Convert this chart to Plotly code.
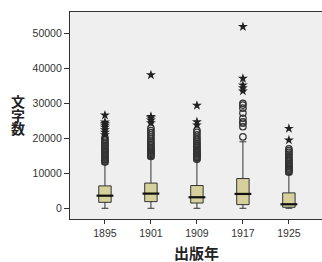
import plotly.graph_objects as go

years = ["1895", "1901", "1909", "1917", "1925"]
q1 = [1700, 1900, 1500, 1050, 290]
median = [3600, 4200, 3150, 4100, 1150]
q3 = [6400, 7200, 6500, 8500, 4400]
lower = [0, 0, 0, 0, 0]
upper = [12600, 14200, 13600, 19000, 9700]
ytick_vals = [0, 10000, 20000, 30000, 40000, 50000]
ytick_text = ["0", "10000", "20000", "30000", "40000", "50000"]
y_title_chars = ["文", "字", "数"]
x_title = "出版年"

circles = {
    "1895": [13200, 13500, 13800, 14000, 14300, 14600, 14900, 15200, 15500, 15800, 16100,
             16400, 16800, 17200, 17600, 18000, 18400, 18800, 19200, 19700, 20200],
    "1901": [14800, 15100, 15400, 15700, 16000, 16300, 16600, 17000, 17400, 17800, 18200,
             18700, 19200, 19800, 20400, 21000, 21600, 22200, 22900],
    "1909": [14000, 14300, 14600, 14900, 15200, 15500, 15800, 16100, 16500, 16900, 17300,
             17700, 18100, 18600, 19100, 19700, 20300, 21000, 21700, 22300],
    "1917": [20400, 23300, 24300, 24700, 25700, 27200, 28600, 29500, 30000],
    "1925": [10300, 10600, 10900, 11200, 11500, 11800, 12100, 12400, 12800, 13200, 13600,
             14000, 14500, 15000, 15500, 16000, 16500, 17000],
}
stars = {
    "1895": [21000, 21700, 22400, 23100, 23700, 24200, 24600, 26600],
    "1901": [24400, 25200, 25800, 26200, 38100],
    "1909": [23800, 24700, 29400],
    "1917": [33500, 34400, 35200, 37100, 51900],
    "1925": [19500, 22800],
}

fig = go.Figure()
fig.add_trace(go.Box(
    x=years, q1=q1, median=median, q3=q3, lowerfence=lower, upperfence=upper,
    fillcolor="#d6d09c", line=dict(color="#333333", width=1),
    width=0.27, whiskerwidth=0.55, boxpoints=False, showlegend=False, hoverinfo="skip",
))
fig.add_trace(go.Scatter(
    x=years, y=median, mode="markers", showlegend=False, hoverinfo="skip",
    marker=dict(symbol="line-ew", size=12, line=dict(color="#111111", width=2.2)),
))
cx, cy, sx, sy = [], [], [], []
for yr in years:
    cx += [yr] * len(circles[yr]); cy += circles[yr]
    sx += [yr] * len(stars[yr]); sy += stars[yr]
fig.add_trace(go.Scatter(
    x=cx, y=cy, mode="markers", showlegend=False, hoverinfo="skip",
    marker=dict(symbol="circle-open", size=6.5, color="#333333", line=dict(width=1.2)),
))
fig.add_trace(go.Scatter(
    x=sx, y=sy, mode="markers", showlegend=False, hoverinfo="skip",
    marker=dict(symbol="star", size=7.5, color="#222222", line=dict(width=0)),
))

tickfont = dict(family="Liberation Sans, Arial, sans-serif", size=10.5, color="#333333")
title_font = dict(family="Noto Sans CJK JP", size=14, color="#222222")
annotations = []
for i, ch in enumerate(y_title_chars):
    annotations.append(dict(text="<b>" + ch + "</b>", xref="x domain", yref="y domain",
                            x=-0.206, y=0.57 - i * 0.066, xanchor="center",
                            yanchor="middle", showarrow=False, font=title_font))
annotations.append(dict(text="<b>" + x_title + "</b>", xref="x domain", yref="y domain",
                        x=0.5, y=-0.16, xanchor="center", yanchor="middle",
                        showarrow=False,
                        font=dict(family="Noto Sans CJK JP", size=15, color="#222222")))

fig.update_layout(
    width=322, height=262,
    margin=dict(l=70, r=0, t=12, b=43),
    paper_bgcolor="white", plot_bgcolor="#efefef",
    xaxis=dict(type="category", range=[-0.76, 4.72], showgrid=False, zeroline=False,
               showline=True, linecolor="#333333", linewidth=1.2, mirror=True,
               ticks="outside", ticklen=4, tickcolor="#333333", tickfont=tickfont),
    yaxis=dict(range=[-3060, 56090], tickvals=ytick_vals, ticktext=ytick_text,
               showgrid=False, zeroline=False, showline=True, linecolor="#333333",
               linewidth=1.2, mirror=True, ticks="outside", ticklen=5,
               tickcolor="#333333", tickfont=tickfont),
    annotations=annotations,
)
fig.write_html("out.html", config={"displayModeBar": False},
               post_script="document.body.style.margin='0px';")
